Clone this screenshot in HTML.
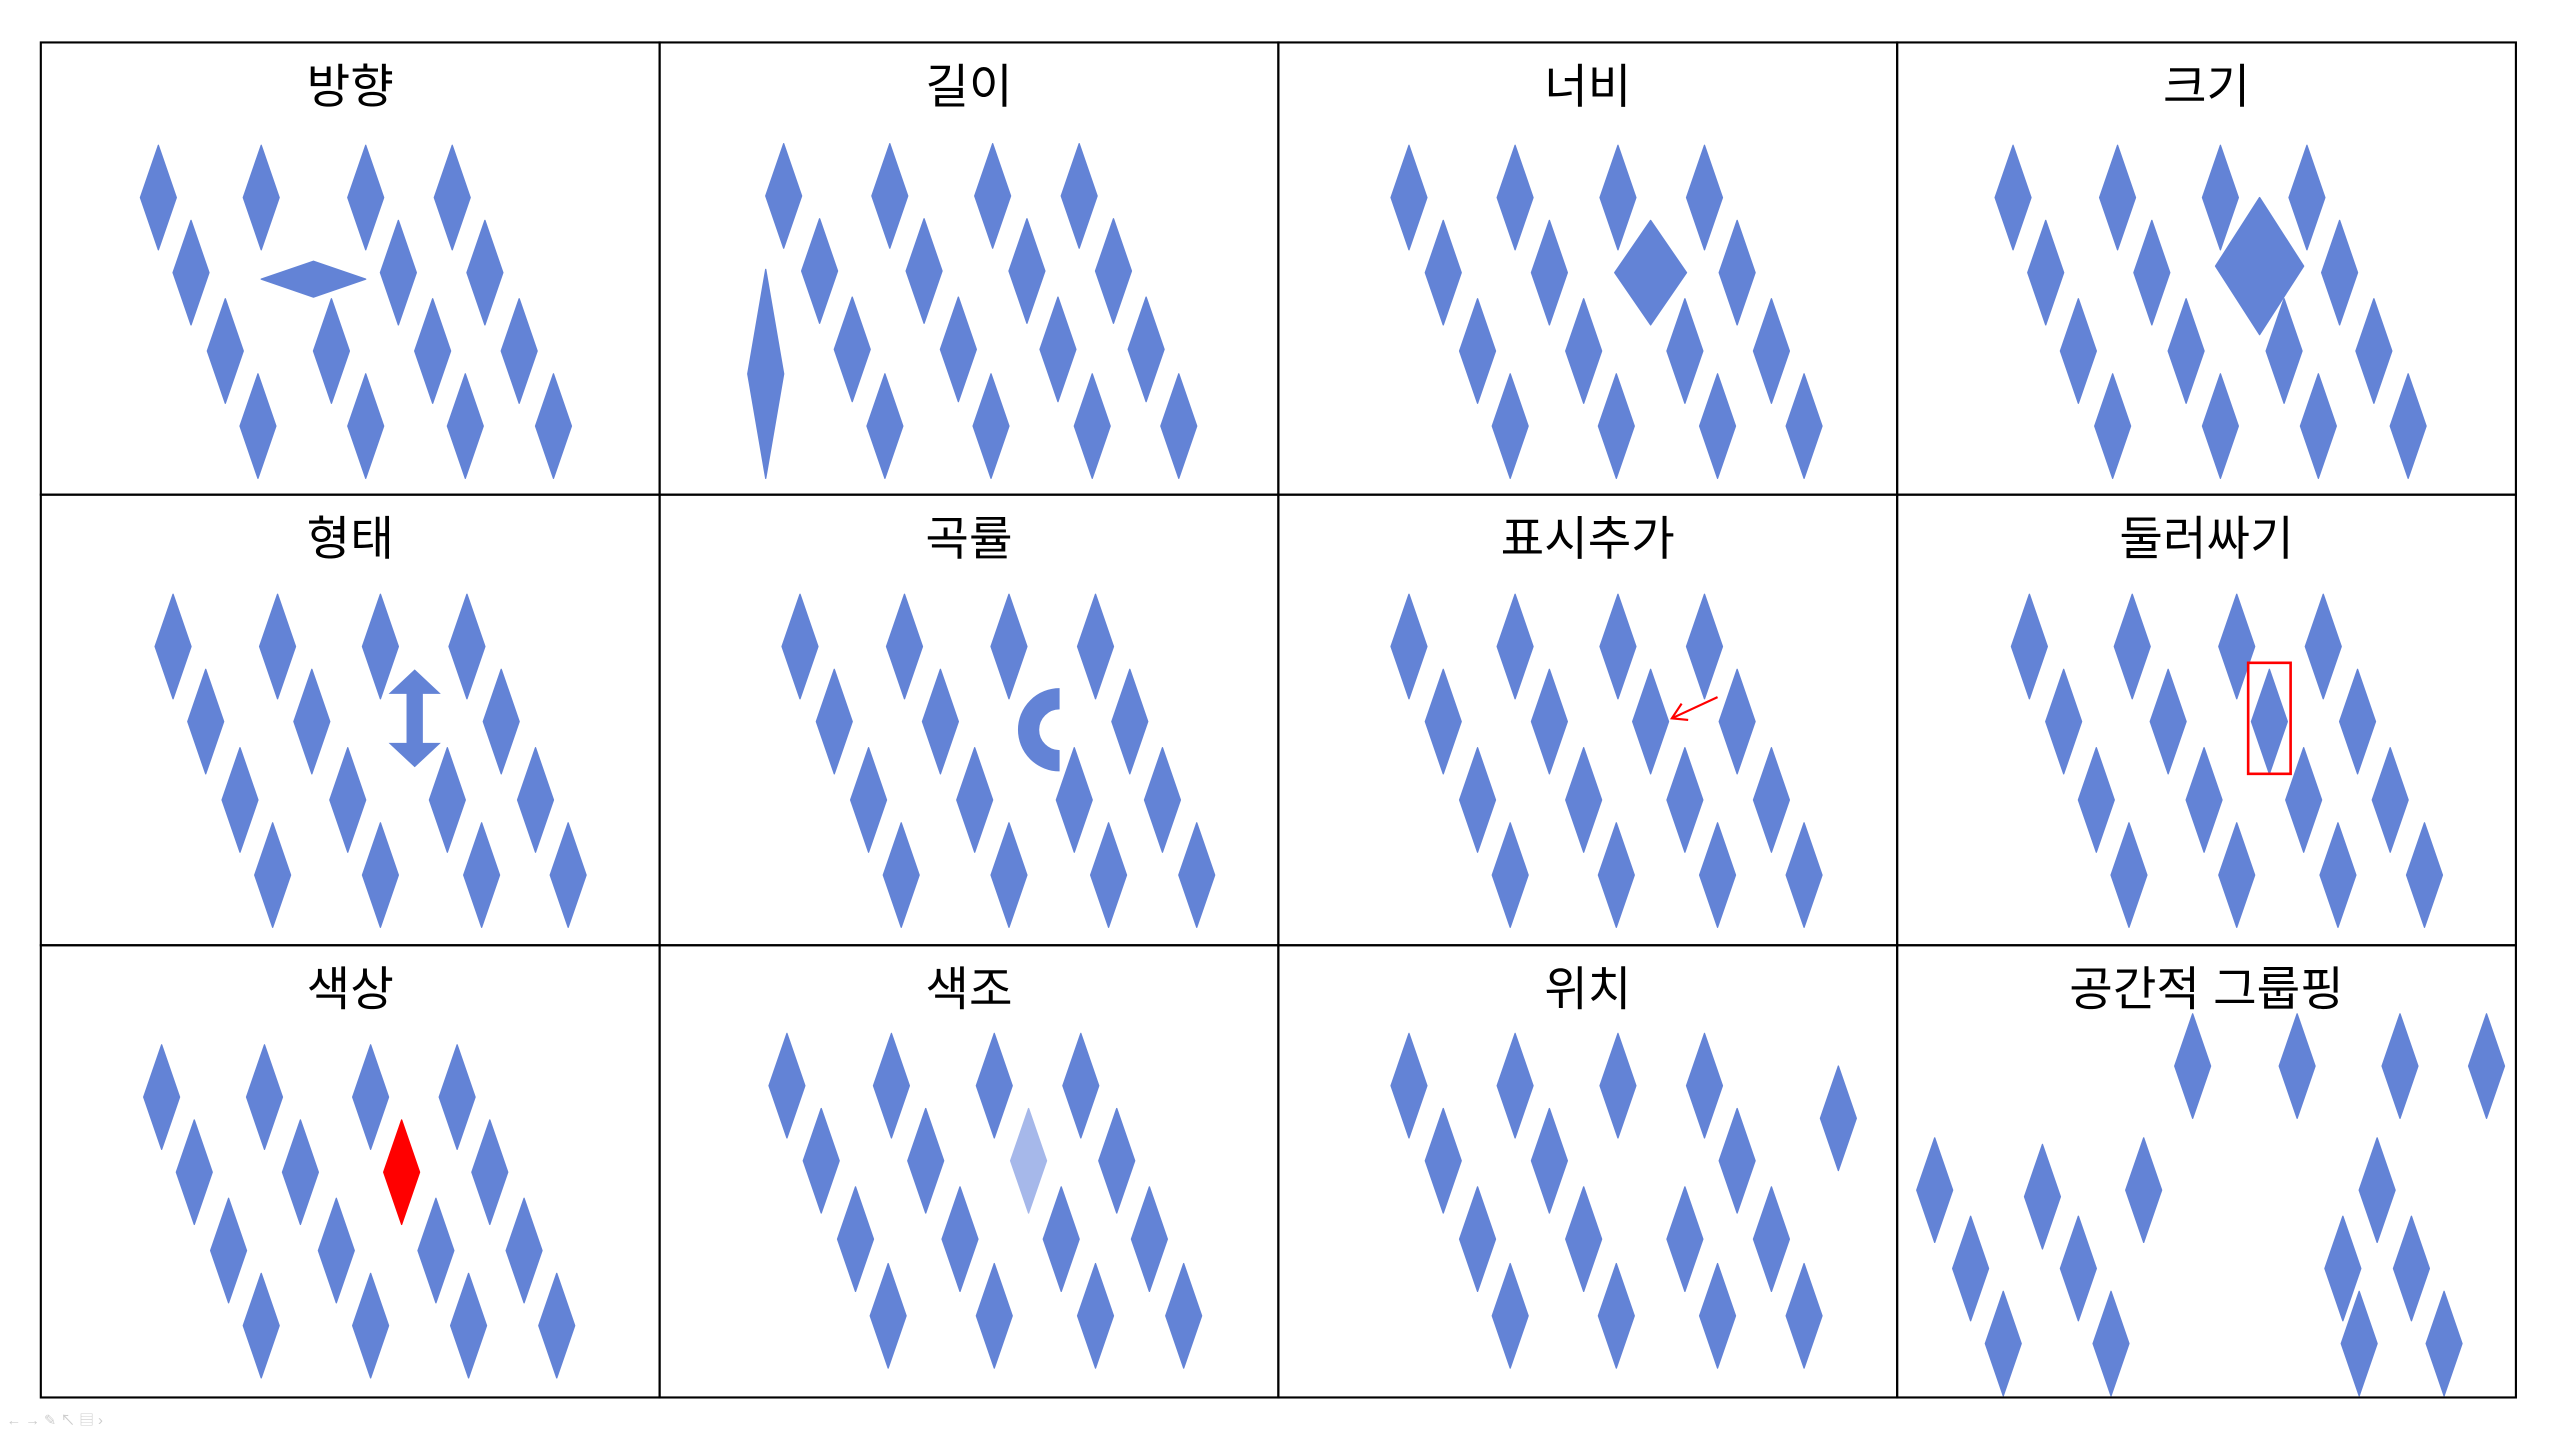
<!DOCTYPE html>
<html><head><meta charset="utf-8"><style>
html,body{margin:0;padding:0;background:#fff;}
svg{display:block;}
text{font-family:"Liberation Sans","Noto Sans CJK KR",sans-serif;}
</style></head><body>
<svg id="fig" width="2560" height="1436" viewBox="0 0 1568 879.6" preserveAspectRatio="none" xmlns="http://www.w3.org/2000/svg">
<g id="marks"></g>
<g id="grid"></g>
<g id="extras"></g>
<text x="4" y="873" font-size="9" fill="#ccc">← → ✎ ↖ ▤ ›</text>
</svg>
<script>
const NS='http://www.w3.org/2000/svg';
const COLOR='#6383d6';
const titles=['방향','길이','너비','크기','형태','곡률','표시추가','둘러싸기','색상','색조','위치','공간적 그룹핑'];
const colEdges=[25,404,783,1162,1541];
const rowEdges=[26,303,579,856];
// diamond centres per cell: [x,y]
const cell1=[[97,121],[160,121],[224,121],[277,121],[117,167],[244,167],[297,167],[138,215],[203,215],[265,215],[318,215],[158,261],[224,261],[285,261],[339,261]];
const cell2=[[480,120],[545,120],[608,120],[661,120],[502,166],[566,166],[629,166],[682,166],[522,214],[587,214],[648,214],[702,214],[542,261],[607,261],[669,261],[722,261]];
const cell3=[[863,121],[928,121],[991,121],[1044,121],[884,167],[949,167],[1064,167],[905,215],[970,215],[1032,215],[1085,215],[925,261],[990,261],[1052,261],[1105,261]];
const cell4=[[1233,121],[1297,121],[1360,121],[1413,121],[1253,167],[1318,167],[1433,167],[1273,215],[1339,215],[1399,215],[1454,215],[1294,261],[1360,261],[1420,261],[1475,261]];
const cell5=[[106,396],[170,396],[233,396],[286,396],[126,442],[191,442],[307,442],[147,490],[213,490],[274,490],[328,490],[167,536],[233,536],[295,536],[348,536]];
const cell6=[[490,396],[554,396],[618,396],[671,396],[511,442],[576,442],[692,442],[532,490],[597,490],[658,490],[712,490],[552,536],[618,536],[679,536],[733,536]];
const cell7=[[863,396],[928,396],[991,396],[1044,396],[884,442],[949,442],[1011,442],[1064,442],[905,490],[970,490],[1032,490],[1085,490],[925,536],[990,536],[1052,536],[1105,536]];
const cell8=[[1243,396],[1306,396],[1370,396],[1423,396],[1264,442],[1328,442],[1390,442],[1444,442],[1284,490],[1350,490],[1411,490],[1464,490],[1304,536],[1370,536],[1432,536],[1485,536]];
const cell9=[[99,672],[162,672],[227,672],[280,672],[119,718],[184,718],[300,718],[140,766],[206,766],[267,766],[321,766],[160,812],[227,812],[287,812],[341,812]];
const cell10=[[482,665],[546,665],[609,665],[662,665],[503,711],[567,711],[684,711],[524,759],[588,759],[650,759],[704,759],[544,806],[609,806],[671,806],[725,806]];
const cell11=[[863,665],[928,665],[991,665],[1044,665],[884,711],[949,711],[1064,711],[1126,685],[905,759],[970,759],[1032,759],[1085,759],[925,806],[990,806],[1052,806],[1105,806]];
const cell12=[[1343,653],[1407,653],[1470,653],[1523,653],[1185,729],[1207,777],[1227,823],[1251,733],[1273,777],[1293,823],[1313,729],[1456,729],[1435,777],[1477,777],[1445,823],[1497,823]];
const cells=[cell1,cell2,cell3,cell4,cell5,cell6,cell7,cell8,cell9,cell10,cell11,cell12];
// special marks: [x,y,w,h,color]
const specials=[[192,171,64,22,COLOR,'horizontal-diamond'],[469,229,22,128,COLOR,'long-diamond'],[1011,167,44,64,COLOR,'wide-diamond'],[1384,163,54,84,COLOR,'large-diamond'],[246,718,22,64,'#ff0000','red-diamond'],[630,711,22,64,'#a6b8ea','light-diamond']];

function diamond(parent,x,y,w,h,fill,name){
  const p=document.createElementNS(NS,'polygon');
  p.setAttribute('points',`${x},${y-h/2} ${x+w/2},${y} ${x},${y+h/2} ${x-w/2},${y}`);
  p.setAttribute('fill',fill);
  p.setAttribute('stroke',fill);p.setAttribute('stroke-width','0.8');p.setAttribute('stroke-linejoin','round');
  
  
  parent.appendChild(p);
}
const marks=document.getElementById('marks');
cells.forEach((c,i)=>c.forEach(d=>diamond(marks,d[0],d[1],22,64,COLOR,'diamond-cell-'+(i+1))));
specials.forEach(s=>diamond(marks,s[0],s[1],s[2],s[3],s[4],s[5]));

const grid=document.getElementById('grid');
for(let r=0;r<3;r++)for(let c=0;c<4;c++){
  const x0=colEdges[c],x1=colEdges[c+1],y0=rowEdges[r],y1=rowEdges[r+1];
  const rect=document.createElementNS(NS,'rect');
  rect.setAttribute('x',x0);rect.setAttribute('y',y0);rect.setAttribute('width',x1-x0);rect.setAttribute('height',y1-y0);
  rect.setAttribute('fill','none');rect.setAttribute('stroke','#000');rect.setAttribute('stroke-width','1.3');
  
  
  grid.appendChild(rect);
  const t=document.createElementNS(NS,'text');
  t.setAttribute('x',(x0+x1)/2);t.setAttribute('y',y0+37);t.setAttribute('text-anchor','middle');t.setAttribute('font-size','29');
  t.textContent=titles[r*4+c];
  
  
  grid.appendChild(t);
}
const ex=document.getElementById('extras');
ex.innerHTML=`
<path fill="${COLOR}" d="M254,410 L270,425 L259,425 L259,455 L270,455 L254,470 L238,455 L249,455 L249,425 L238,425 Z"/>
<path fill="none" stroke="${COLOR}" stroke-width="13" d="M649,428 A19,19 0 0 0 649,466"/>
<g stroke="#ff0000" stroke-width="1.3" fill="none">
<line x1="1052" y1="427" x2="1024" y2="440"/><polyline points="1030,431 1024,440 1034,441"/></g>
<rect x="1377" y="406" width="26" height="68" fill="none" stroke="#ff0000" stroke-width="1.6"/>`;
</script>
</body></html>
